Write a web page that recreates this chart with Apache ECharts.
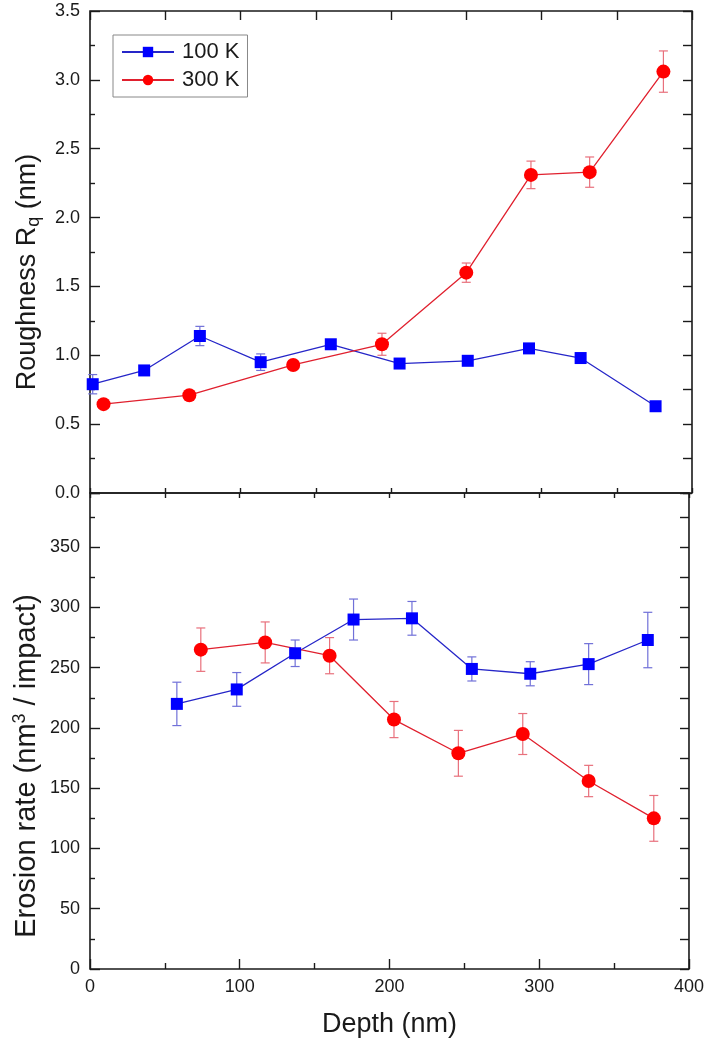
<!DOCTYPE html>
<html>
<head>
<meta charset="utf-8">
<script src="https://cdn.jsdelivr.net/npm/echarts@6/dist/echarts.min.js"></script>
<style>
html,body{margin:0;padding:0;background:#fff;}
#chart{width:707px;height:1050px;}
</style>
</head>
<body>
<div id="chart"></div>
<script>
// ---- Data ----
const seriesNames = ['100 K', '300 K'];

// Top panel: Roughness Rq (nm)
const depthBlueTop = [1.8, 36, 73, 113.4, 160, 205.7, 251, 291.7, 326, 375.8];
const roughBlue    = [0.79, 0.89, 1.14, 0.95, 1.08, 0.94, 0.96, 1.05, 0.98, 0.63];
const roughBlueErr = [0.07, 0.02, 0.07, 0.06, 0.02, 0.02, 0.02, 0.02, 0.02, 0.02];
const depthRedTop  = [9, 66, 135, 194, 250, 293, 332, 381];
const roughRed     = [0.645, 0.71, 0.93, 1.08, 1.60, 2.31, 2.33, 3.06];
const roughRedErr  = [0.02, 0.03, 0.02, 0.08, 0.07, 0.10, 0.11, 0.15];

// Bottom panel: Erosion rate (nm^3 / impact)
const depthBlueBot   = [58, 98, 137, 176, 215, 255, 294, 333, 372.5];
const erosionBlue    = [220, 232, 262, 290, 291, 249, 245, 253, 273];
const erosionBlueErr = [18, 14, 11, 17, 14, 10, 10, 17, 23];
const depthRedBot    = [74, 117, 160, 203, 246, 289, 333, 376.5];
const erosionRed     = [265, 271, 260, 207, 179, 195, 156, 125];
const erosionRedErr  = [18, 17, 15, 15, 19, 17, 13, 19];

// ---- Layout / styles ----
const FONT = '"Liberation Sans", Arial, sans-serif';
const AX = '#1a1a1a';
const blue = '#0000ff', blueLine = '#2626c8', blueErr = '#7070d8';
const red = '#ff0000', redLine = '#e0202e', redErr = '#e8707c';

function pairs(xs, ys) { return xs.map((x, i) => [x, ys[i]]); }
function errData(xs, ys, es) { return xs.map((x, i) => [x, ys[i] - es[i], ys[i] + es[i]]); }

function errSeries(name, xs, ys, es, color, xi, yi) {
  return {
    type: 'custom', name: name + '_err', xAxisIndex: xi, yAxisIndex: yi, z: 1,
    silent: true,
    encode: { x: 0, y: [1, 2] },
    data: errData(xs, ys, es),
    renderItem: function (params, api) {
      const x = api.value(0), lo = api.value(1), hi = api.value(2);
      const a = api.coord([x, lo]), b = api.coord([x, hi]);
      const w = 4.5;
      const st = { stroke: color, lineWidth: 1.2, fill: null };
      return { type: 'group', children: [
        { type: 'line', shape: { x1: a[0], y1: a[1], x2: b[0], y2: b[1] }, style: st },
        { type: 'line', shape: { x1: a[0] - w, y1: a[1], x2: a[0] + w, y2: a[1] }, style: st },
        { type: 'line', shape: { x1: b[0] - w, y1: b[1], x2: b[0] + w, y2: b[1] }, style: st }
      ]};
    }
  };
}

function lineSeries(name, xs, ys, sym, size, color, lcolor, xi, yi) {
  return {
    type: 'line', name: name, xAxisIndex: xi, yAxisIndex: yi, z: 3,
    data: pairs(xs, ys), symbol: sym, symbolSize: size, showAllSymbol: true,
    itemStyle: { color: color, borderWidth: 0 },
    lineStyle: { color: lcolor, width: 1.3 },
    animation: false
  };
}

const labelStyle = { color: '#1a1a1a', fontFamily: FONT, fontSize: 18 };
const TL = { color: AX, width: 1.4 };

// tick-only axis, pinned with onZero to an edge so its ticks point into the plot
function tickAxis(grid, pos, zeroIdx, min, max, interval, len, minorLen) {
  const a = { gridIndex: grid, type: 'value', position: pos, min: min, max: max, interval: interval,
    axisLine: { show: false, onZero: true, onZeroAxisIndex: zeroIdx },
    axisLabel: { show: false }, splitLine: { show: false },
    axisTick: { show: true, length: len, lineStyle: TL } };
  if (minorLen) a.minorTick = { show: true, splitNumber: 2, length: minorLen, lineStyle: TL };
  return a;
}
function helper(grid, min, max) {
  return { gridIndex: grid, type: 'value', show: false, min: min, max: max,
    axisLine: { onZero: false } };
}

// x axes: 0 data g0, 1 data g1, 2 helper g0 (zero left), 3 helper g0 (zero right),
//         4 helper g1 (zero left), 5 helper g1 (zero right), 6..9 tick axes
// y axes: 0 data g0, 1 data g1, 2 helper g0 (zero top), 3 helper g1 (zero top), 4..7 tick axes
const chart = echarts.init(document.getElementById('chart'), null, { renderer: 'canvas' });
chart.setOption({
  backgroundColor: '#fff',
  animation: false,
  grid: [
    { left: 90, right: 15, top: 11, height: 482, show: true, borderColor: AX, borderWidth: 1.6 },
    { left: 90, right: 15, top: 493, height: 476, show: true, borderColor: AX, borderWidth: 1.6 }
  ],
  legend: {
    data: seriesNames,
    orient: 'vertical',
    left: 113, top: 35,
    padding: [6, 8, 6, 8],
    itemWidth: 52, itemHeight: 13, itemGap: 6,
    borderColor: '#888', borderWidth: 1,
    textStyle: { fontFamily: FONT, fontSize: 22, color: '#1a1a1a', padding: [0, 0, 0, 3] }
  },
  graphic: [
    { type: 'text', x: 28, y: 272, rotation: Math.PI / 2, silent: true,
      style: { text: '{a|Roughness R}{s|q}{a| (nm)}', align: 'center', verticalAlign: 'middle',
        rich: {
          a: { fontFamily: FONT, fontSize: 27, fill: '#1a1a1a' },
          s: { fontFamily: FONT, fontSize: 18, fill: '#1a1a1a', padding: [12, 0, 0, 0] }
        } } },
    { type: 'text', x: 27, y: 766, rotation: Math.PI / 2, silent: true,
      style: { text: '{a|Erosion rate (nm}{s|3}{a| / impact)}', align: 'center', verticalAlign: 'middle',
        rich: {
          a: { fontFamily: FONT, fontSize: 29, fill: '#1a1a1a' },
          s: { fontFamily: FONT, fontSize: 18, fill: '#1a1a1a', padding: [0, 0, 14, 0] }
        } } }
  ],
  xAxis: [
    { gridIndex: 0, type: 'value', position: 'bottom', min: 0, max: 400, interval: 50,
      axisLine: { show: false, onZero: false }, axisTick: { show: false }, axisLabel: { show: false }, splitLine: { show: false } },
    { gridIndex: 1, type: 'value', position: 'bottom', min: 0, max: 400, interval: 100,
      name: 'Depth (nm)', nameLocation: 'middle', nameGap: 42,
      nameTextStyle: { fontFamily: FONT, fontSize: 27, color: '#1a1a1a' },
      axisLine: { show: false, onZero: false }, axisTick: { show: false },
      axisLabel: Object.assign({ margin: 9 }, labelStyle), splitLine: { show: false } },
    helper(0, 0, 1), helper(0, -1, 0), helper(1, 0, 1), helper(1, -1, 0),
    tickAxis(0, 'bottom', 2, 0, 400, 50, 9),        // top edge of upper panel, ticks down
    tickAxis(0, 'top', 0, 0, 400, 50, 5),           // middle line, ticks up
    tickAxis(1, 'bottom', 3, 0, 400, 50, 5),        // middle line, ticks down
    tickAxis(1, 'top', 1, 0, 400, 100, 10, 6)       // bottom edge, ticks up
  ],
  yAxis: [
    { gridIndex: 0, type: 'value', position: 'left', min: 0, max: 3.5, interval: 0.5,
      axisLine: { show: false, onZero: false }, axisTick: { show: false },
      axisLabel: Object.assign({ margin: 10, formatter: v => v.toFixed(1) }, labelStyle),
      splitLine: { show: false } },
    { gridIndex: 1, type: 'value', position: 'left', min: 0, max: 395, interval: 50,
      axisLine: { show: false, onZero: false }, axisTick: { show: false },
      axisLabel: Object.assign({ margin: 10, formatter: v => (v % 50 === 0 ? String(v) : '') }, labelStyle),
      splitLine: { show: false } },
    helper(0, -1, 0), helper(1, -1, 0),
    tickAxis(0, 'right', 2, 0, 3.5, 0.5, 10, 5),    // left edge, ticks right
    tickAxis(0, 'left', 3, 0, 3.5, 0.25, 9),        // right edge, ticks left
    tickAxis(1, 'right', 4, 0, 395, 50, 10, 5),     // left edge, ticks right
    tickAxis(1, 'left', 5, 0, 395, 25, 9)           // right edge, ticks left
  ],
  series: [
    errSeries('100 K', depthBlueTop, roughBlue, roughBlueErr, blueErr, 0, 0),
    errSeries('300 K', depthRedTop, roughRed, roughRedErr, redErr, 0, 0),
    errSeries('100 K', depthBlueBot, erosionBlue, erosionBlueErr, blueErr, 1, 1),
    errSeries('300 K', depthRedBot, erosionRed, erosionRedErr, redErr, 1, 1),
    lineSeries('100 K', depthBlueTop, roughBlue, 'rect', 12, blue, blueLine, 0, 0),
    lineSeries('300 K', depthRedTop, roughRed, 'circle', 14, red, redLine, 0, 0),
    lineSeries('100 K', depthBlueBot, erosionBlue, 'rect', 12, blue, blueLine, 1, 1),
    lineSeries('300 K', depthRedBot, erosionRed, 'circle', 14, red, redLine, 1, 1)
  ]
});
</script>
</body>
</html>
